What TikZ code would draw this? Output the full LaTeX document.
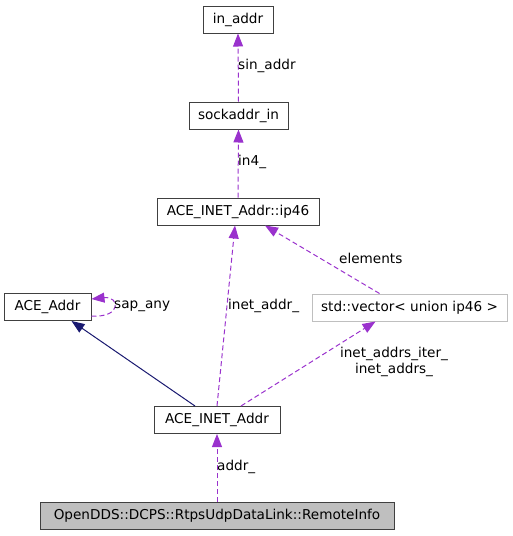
\documentclass[tikz,border=0pt]{standalone}
\usepackage{fontspec}
\setmainfont{DejaVu Sans}
\usetikzlibrary{arrows.meta}
\definecolor{purp}{HTML}{9A32CD}
\definecolor{navy}{HTML}{191970}
\definecolor{boxgray}{HTML}{BFBFBF}
\definecolor{edgegray}{HTML}{BFBFBF}
\tikzset{
  cls/.style={draw=black!75, line width=1pt, inner sep=0pt, minimum height=27pt, font=\fontsize{13.6}{15}\selectfont},
  rel/.style={purp, dash pattern=on 5pt off 3pt, line width=1pt, -{Triangle[length=13pt,width=10pt]}},
  inh/.style={navy, line width=1pt, -{Triangle[length=13pt,width=10pt]}},
  lbl/.style={font=\fontsize{13.6}{15.5}\selectfont, inner sep=1pt, align=center}
}
\begin{document}
\begin{tikzpicture}[x=1pt,y=-1pt]
\useasboundingbox (0,0) rectangle (512,536);
\node[cls, minimum width=70pt] (inaddr) at (238,19.5) {in\_addr};
\node[cls, minimum width=99pt] (sock) at (238.5,115.5) {sockaddr\_in};
\node[cls, minimum width=162pt] (ip46) at (238,211.5) {ACE\_INET\_Addr::ip46};
\node[cls, minimum width=87pt] (aceaddr) at (47.5,307) {ACE\_Addr};
\node[cls, draw=edgegray, minimum width=195pt] (vec) at (409.5,307.5) {std::vector< union ip46 >};
\node[cls, minimum width=126pt] (inet) at (217,420) {ACE\_INET\_Addr};
\node[cls, fill=boxgray, minimum width=354pt] (remote) at (217,516) {OpenDDS::DCPS::RtpsUdpDataLink::RemoteInfo};

\draw[rel] (sock.north) -- (inaddr.south);
\node[lbl, anchor=west] (l1) at (237,66) {sin\_addr};
\draw[rel] (ip46.north) -- (sock.south);
\node[lbl, anchor=west] (l2) at (237,162) {in4\_};
\draw[rel] (inet.north) -- ([xshift=-3pt]ip46.south);
\node[lbl, anchor=west] (l3) at (227,306) {inet\_addr\_};
\draw[rel] ([xshift=-30pt]vec.north) -- ([xshift=27pt]ip46.south);
\node[lbl, anchor=west] (l4) at (338,258) {elements};
\draw[rel] ([xshift=24pt]inet.north) -- ([xshift=-34pt]vec.south);
\node[lbl] (l5) at (394,362) {inet\_addrs\_iter\_\\inet\_addrs\_};
\draw[inh] ([xshift=-22pt]inet.north) -- ([xshift=24pt]aceaddr.south);
\draw[rel] ([yshift=-9pt]aceaddr.east) .. controls (122,318) and (120,296) .. ([yshift=8pt]aceaddr.east);
\node[lbl, anchor=west] (l6) at (113,306) {sap\_any};
\draw[rel] (remote.north) -- (inet.south);
\node[lbl, anchor=west] (l7) at (216,467) {addr\_};
\end{tikzpicture}
\end{document}
